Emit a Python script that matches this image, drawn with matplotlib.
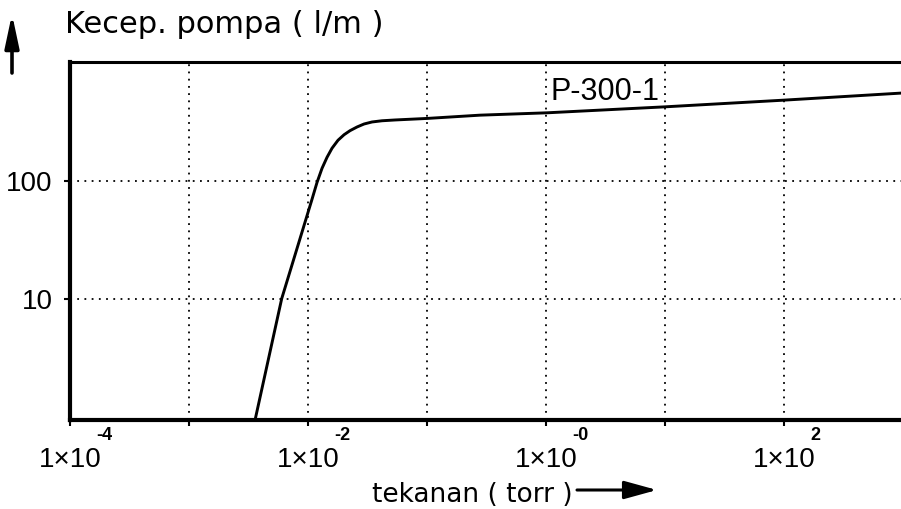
import matplotlib
matplotlib.use("Agg")
import matplotlib.pyplot as plt
from matplotlib import transforms

# ---- data ----
pressure_torr = [0.00359, 0.00601, 0.01074, 0.01191, 0.01312, 0.01445, 0.01592,
                 0.01787, 0.02009, 0.02256, 0.02583, 0.02958, 0.03452, 0.04188,
                 0.05383, 0.1, 0.2786, 1.019, 10.0, 100.0, 961.6]
pump_speed = [0.925, 10.0, 68.9, 98.0, 129.2, 160.3, 191.6,
              224.0, 249.6, 270.4, 290.6, 308.1, 320.6, 328.3,
              333.4, 343.6, 366.4, 383.7, 431.5, 492.0, 564.9]
series_name = "P-300-1"

x_ticks = [1e-4, 1e-3, 1e-2, 1e-1, 1e0, 1e1, 1e2]
x_label_ticks = [1e-4, 1e-2, 1e0, 1e2]
x_label_base = ["1\u00d710", "1\u00d710", "1\u00d710", "1\u00d710"]
x_label_exp = ["-4", "-2", "-0", "2"]
y_ticks = [10, 100]
y_tick_labels = ["10", "100"]
x_limits = (1e-4, 961.6)
y_limits = (0.925, 1040)

ylabel_text = "Kecep. pompa ( l/m )"
xlabel_text = "tekanan ( torr )"

# ---- figure ----
W, H = 901, 509
fig = plt.figure(figsize=(W / 100, H / 100), dpi=100)
ax = fig.add_axes([70 / W, 89 / H, 831 / W, 358 / H])
ax.set_xscale("log")
ax.set_yscale("log")
ax.set_xlim(*x_limits)
ax.set_ylim(*y_limits)

ax.plot(pressure_torr, pump_speed, color="black", lw=2.1, solid_capstyle="round",
        solid_joinstyle="round", clip_on=True, zorder=3)

# spines
for s in ["left", "bottom"]:
    ax.spines[s].set_linewidth(3.0)
ax.spines["top"].set_linewidth(2.2)
ax.spines["right"].set_visible(False)

# ticks
tick_font = ["Liberation Sans", "DejaVu Sans"]
ax.set_xticks(x_ticks)
ax.set_xticklabels([""] * len(x_ticks))
ax.xaxis.set_minor_locator(matplotlib.ticker.NullLocator())
ax.set_yticks(y_ticks)
ax.yaxis.set_minor_locator(matplotlib.ticker.NullLocator())
ax.set_yticklabels(y_tick_labels, fontsize=20, family=tick_font)
ax.tick_params(axis="both", which="major", direction="out", length=4.5, width=1.5,
               color="black")
ax.tick_params(axis="y", pad=8)

# dotted grid
ax.grid(True, which="major", axis="both", color="black", linestyle=(0, (1, 3)),
        linewidth=1.3)
ax.set_axisbelow(True)

# x tick labels: 1x10 with separate superscript
xtr = ax.get_xaxis_transform()
for xv, base, ex in zip(x_label_ticks, x_label_base, x_label_exp):
    t_base = transforms.offset_copy(xtr, fig=fig, x=0, y=-27, units="dots")
    ax.text(xv, 0, base, transform=t_base, ha="center", va="top", fontsize=20,
            family=tick_font, clip_on=False)
    t_exp = transforms.offset_copy(xtr, fig=fig, x=26, y=-7, units="dots")
    ax.text(xv, 0, ex, transform=t_exp, ha="left", va="top", fontsize=13,
            fontweight="bold", family=tick_font, clip_on=False)

# series label
ax.text(1.1, 492, series_name, fontsize=22, family=["Liberation Sans", "DejaVu Sans"],
        ha="left", va="baseline")

# axis titles
label_font = ["DejaVu Sans"]
fig.text(65 / W, 1 - 33 / H, ylabel_text, fontsize=22, family=label_font,
         ha="left", va="baseline")
fig.text(372 / W, 1 - 502 / H, xlabel_text, fontsize=19, family=label_font,
         ha="left", va="baseline")

# arrows
fig.patches.append(matplotlib.patches.FancyArrowPatch(
    (12 / W, 1 - 73 / H), (12 / W, 1 - 14 / H), transform=fig.transFigure,
    arrowstyle="-|>,head_length=8,head_width=1.7", lw=2.6, color="black",
    mutation_scale=2.5, shrinkA=0, shrinkB=0))
fig.patches.append(matplotlib.patches.FancyArrowPatch(
    (577 / W, 1 - 490 / H), (657 / W, 1 - 490 / H), transform=fig.transFigure,
    arrowstyle="-|>,head_length=8,head_width=2.2", lw=2.2, color="black",
    mutation_scale=2.5, shrinkA=0, shrinkB=0))

fig.savefig("out.png", dpi=100)
